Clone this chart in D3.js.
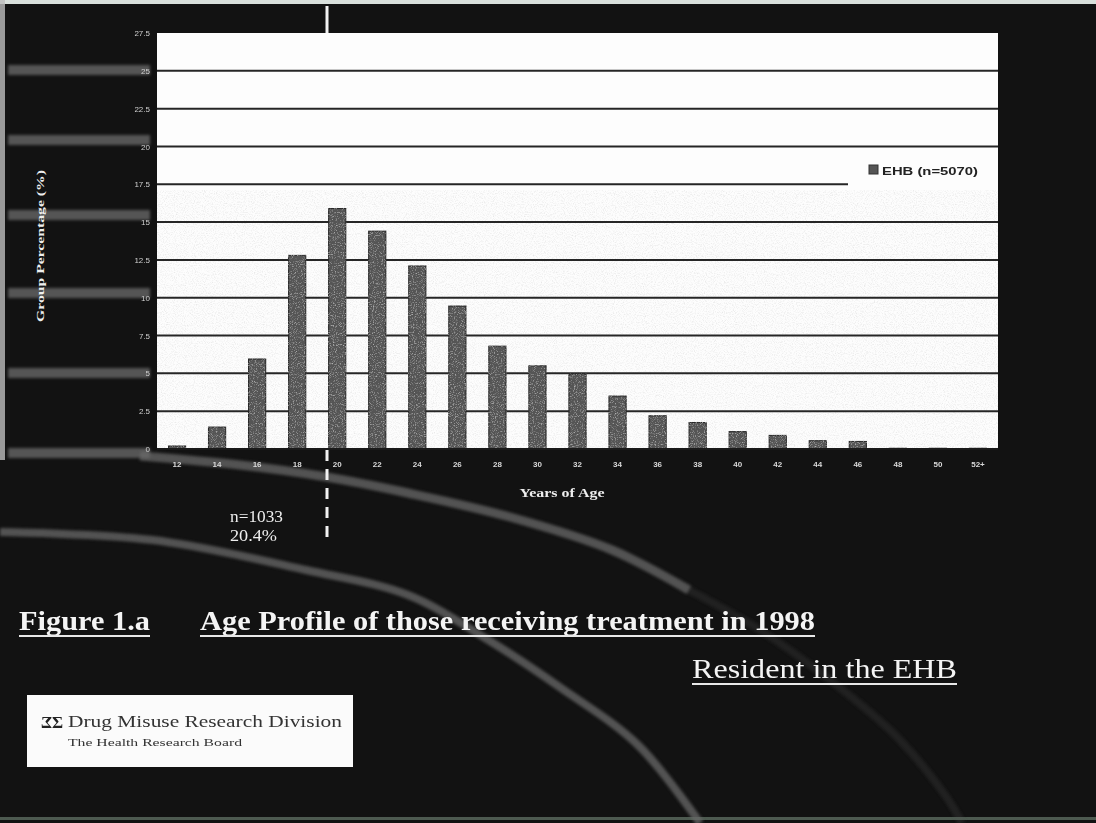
<!DOCTYPE html>
<html>
<head>
<meta charset="utf-8">
<script src="https://cdn.jsdelivr.net/npm/d3@7"></script>
<style>
  html, body { margin: 0; padding: 0; background: #111; }
  svg { display: block; }
</style>
</head>
<body>
<div id="chart"></div>
<script>
// ---------- data ----------
const ages = ["12","14","16","18","20","22","24","26","28","30","32","34","36","38","40","42","44","46","48","50","52+"];
const percentages = [0.2,1.45,5.95,12.8,15.9,14.4,12.1,9.45,6.8,5.5,4.95,3.5,2.2,1.75,1.15,0.9,0.55,0.5,0.05,0.05,0.05];
const yTicks = [0,2.5,5,7.5,10,12.5,15,17.5,20,22.5,25,27.5];
const yTickLabels = ["0","2.5","5","7.5","10","12.5","15","17.5","20","22.5","25","27.5"];
const seriesName = "EHB (n=5070)";
const yTitle = "Group Percentage (%)";
const xTitle = "Years of Age";
const noteLines = ["n=1033", "20.4%"];
const figureLabel = "Figure 1.a";
const figureTitle = "Age Profile of those receiving treatment in 1998";
const subTitle = "Resident in the EHB";
const orgName = "Drug Misuse Research Division";
const orgSub = "The Health Research Board";

// decorative background swoosh guide points (not data)
const swooshA = [[140,456],[240,465],[327,477],[408,493],[510,517],[612,550],[689,590]];
const swooshA2 = [[689,590],[760,630],[830,680],[895,735],[945,795],[962,823]];
const swooshB = [[0,532],[153,540],[306,570],[408,595],[485,638],[561,688],[638,745],[700,823]];
const streaks = [70,140,215,293,373,453];

const W = 1096, H = 823;
const plot = {left:157, right:998, top:33, bottom:449};

const svg = d3.select("#chart").append("svg").attr("width", W).attr("height", H);
const defs = svg.append("defs");

// noise filters
function noiseFilter(id, freq, seed, gray, a, b, merge) {
  const f = defs.append("filter").attr("id", id).attr("x", 0).attr("y", 0).attr("width", "100%").attr("height", "100%");
  f.append("feTurbulence").attr("type","fractalNoise").attr("baseFrequency", freq).attr("numOctaves", 2).attr("seed", seed).attr("result","n");
  f.append("feColorMatrix").attr("in","n").attr("type","matrix")
    .attr("values", `0 0 0 0 ${gray} 0 0 0 0 ${gray} 0 0 0 0 ${gray} ${a} 0 0 0 ${b}`).attr("result","spk");
  f.append("feComposite").attr("in","spk").attr("in2","SourceAlpha").attr("operator","in").attr("result","spk2");
  const m = f.append("feMerge");
  if (merge) m.append("feMergeNode").attr("in","SourceGraphic");
  m.append("feMergeNode").attr("in","spk2");
}
noiseFilter("plotNoise", 0.9, 7, 0.6, 2.2, -1.0, false);
noiseFilter("barNoise", 0.9, 11, 0.62, 1.8, -0.95, true);
defs.append("filter").attr("id","blur").append("feGaussianBlur").attr("stdDeviation", 1.6);

// background
svg.append("rect").attr("width", W).attr("height", H).attr("fill", "#121212");
// frame strips
svg.append("rect").attr("x",0).attr("y",0).attr("width",W).attr("height",4).attr("fill","#d9e0dc");
svg.append("rect").attr("x",0).attr("y",0).attr("width",5).attr("height",460).attr("fill","#bdbdbd").attr("opacity",0.8);
svg.append("rect").attr("x",0).attr("y",817).attr("width",W).attr("height",3).attr("fill","#4d5a50");

// left streaks
const streakG = svg.append("g").attr("filter","url(#blur)");
streakG.selectAll("rect").data(streaks).join("rect")
  .attr("x", 8).attr("y", d => d - 5).attr("width", 142).attr("height", 10)
  .attr("fill", "#7a7a7a").attr("opacity", 0.65);

// swooshes
const lineGen = d3.line().curve(d3.curveCatmullRom.alpha(0.5));
const swG = svg.append("g").attr("filter","url(#blur)");
swG.append("path").attr("d", lineGen(swooshA)).attr("fill","none").attr("stroke","#6a6a6a").attr("stroke-width",9).attr("opacity",0.75);
swG.append("path").attr("d", lineGen(swooshA2)).attr("fill","none").attr("stroke","#505050").attr("stroke-width",8).attr("opacity",0.22);
swG.append("path").attr("d", lineGen(swooshB)).attr("fill","none").attr("stroke","#6a6a6a").attr("stroke-width",8).attr("opacity",0.75);

// plot area
svg.append("rect").attr("x", plot.left).attr("y", plot.top)
  .attr("width", plot.right - plot.left).attr("height", plot.bottom - plot.top).attr("fill", "#fdfdfd");
svg.append("rect").attr("x", plot.left).attr("y", 190)
  .attr("width", plot.right - plot.left).attr("height", plot.bottom - 190).attr("fill", "#fff")
  .attr("filter","url(#plotNoise)").attr("opacity", 0.45);

// scales
const x = d3.scaleBand().domain(ages).range([plot.left, plot.right]).paddingInner(0.57).paddingOuter(0.285);
const y = d3.scaleLinear().domain([0, 27.5]).range([plot.bottom, plot.top]);

// legend box area (hides part of a gridline)
const legendBox = {x0: 848, y0: 150, y1: 208};

// gridlines
svg.append("g").selectAll("line").data(yTicks.filter(t => t > 0 && t < 27.5)).join("line")
  .attr("x1", plot.left)
  .attr("x2", d => (y(d) > legendBox.y0 && y(d) < legendBox.y1) ? legendBox.x0 : plot.right)
  .attr("y1", d => y(d)).attr("y2", d => y(d))
  .attr("stroke", "#262626").attr("stroke-width", 2);

// bars
svg.append("g").attr("filter","url(#barNoise)").selectAll("rect").data(percentages).join("rect")
  .attr("x", (d,i) => x(ages[i]))
  .attr("y", d => y(d))
  .attr("width", x.bandwidth())
  .attr("height", d => plot.bottom - y(d))
  .attr("fill", "#555").attr("stroke", "#262626").attr("stroke-width", 1);

// baseline
svg.append("line").attr("x1", plot.left).attr("x2", plot.right).attr("y1", plot.bottom).attr("y2", plot.bottom)
  .attr("stroke", "#1a1a1a").attr("stroke-width", 2);

// y axis labels
const yAxis = d3.axisLeft(y).tickValues(yTicks).tickFormat((d,i) => yTickLabels[i]).tickSize(0).tickPadding(7);
const yG = svg.append("g").attr("transform", `translate(${plot.left},0)`).call(yAxis);
yG.select(".domain").remove();
yG.selectAll("text").attr("fill", "#d0d0d0").attr("font-family", "Liberation Sans, Arial, sans-serif").attr("font-size", 8);

// x axis labels
const xAxis = d3.axisBottom(x).tickSize(0).tickPadding(12);
const xG = svg.append("g").attr("transform", `translate(0,${plot.bottom})`).call(xAxis);
xG.select(".domain").remove();
xG.selectAll("text").attr("fill", "#d8d8d8").attr("font-family", "Liberation Sans, Arial, sans-serif")
  .attr("font-size", 8).attr("font-weight", "bold");

// axis titles
svg.append("text").attr("transform", "translate(44,246) rotate(-90)")
  .attr("text-anchor","middle").attr("fill","#eee").attr("font-family","Liberation Serif, serif")
  .attr("font-weight","bold").attr("font-size", 11).attr("textLength", 152).attr("lengthAdjust","spacingAndGlyphs")
  .text(yTitle);
svg.append("text").attr("x", 562).attr("y", 497).attr("text-anchor","middle").attr("fill","#eee")
  .attr("font-family","Liberation Serif, serif").attr("font-weight","bold").attr("font-size", 12)
  .attr("textLength", 85).attr("lengthAdjust","spacingAndGlyphs").text(xTitle);

// legend
svg.append("rect").attr("x", 869).attr("y", 165).attr("width", 9).attr("height", 9).attr("fill", "#555").attr("stroke","#333");
svg.append("text").attr("x", 882).attr("y", 174.5).attr("fill","#222")
  .attr("font-family","Liberation Sans, Arial, sans-serif").attr("font-weight","bold").attr("font-size", 11.5)
  .attr("textLength", 96).attr("lengthAdjust","spacingAndGlyphs").text(seriesName);

// dashed divider
const divX = 327;
svg.append("line").attr("x1", divX).attr("x2", divX).attr("y1", 6).attr("y2", plot.top)
  .attr("stroke","#f2f2f2").attr("stroke-width",3);
svg.append("line").attr("x1", divX).attr("x2", divX).attr("y1", plot.bottom + 1).attr("y2", 537)
  .attr("stroke","#f2f2f2").attr("stroke-width",3).attr("stroke-dasharray","11,8");

// note
svg.append("g").selectAll("text").data(noteLines).join("text")
  .attr("x", 230).attr("y", (d,i) => 522 + i*19).attr("fill","#eee")
  .attr("font-family","Liberation Serif, serif").attr("font-size", 16)
  .attr("textLength", (d,i) => i === 0 ? 53 : 47).attr("lengthAdjust","spacingAndGlyphs").text(d => d);

// titles
function uText(txt, x0, x1, base, size, weight) {
  svg.append("text").attr("x", x0).attr("y", base).attr("fill","#f4f4f4")
    .attr("font-family","Liberation Serif, serif").attr("font-weight", weight).attr("font-size", size)
    .attr("textLength", x1 - x0).attr("lengthAdjust","spacingAndGlyphs").text(txt);
  svg.append("line").attr("x1", x0).attr("x2", x1).attr("y1", base + 6).attr("y2", base + 6)
    .attr("stroke","#e8e8e8").attr("stroke-width", 2.2);
}
uText(figureLabel, 19, 150, 630, 28, "bold");
uText(figureTitle, 200, 815, 630, 28, "bold");
uText(subTitle, 692, 957, 678, 27, "normal");

// logo box
svg.append("rect").attr("x", 27).attr("y", 695).attr("width", 326).attr("height", 72).attr("fill", "#fbfbfb");
svg.append("text").attr("transform","translate(52,728) scale(-1,1)").attr("text-anchor","start")
  .attr("font-family","Liberation Serif, serif").attr("font-weight","bold").attr("font-size", 17).attr("fill","#222").text("Σ");
svg.append("text").attr("x", 52).attr("y", 728)
  .attr("font-family","Liberation Serif, serif").attr("font-weight","bold").attr("font-size", 17).attr("fill","#222").text("Σ");
svg.append("text").attr("x", 68).attr("y", 727).attr("fill","#333")
  .attr("font-family","Liberation Serif, serif").attr("font-size", 17)
  .attr("textLength", 274).attr("lengthAdjust","spacingAndGlyphs").text(orgName);
svg.append("text").attr("x", 68).attr("y", 746).attr("fill","#333")
  .attr("font-family","Liberation Serif, serif").attr("font-size", 10.5)
  .attr("textLength", 174).attr("lengthAdjust","spacingAndGlyphs").text(orgSub);
</script>
</body>
</html>
